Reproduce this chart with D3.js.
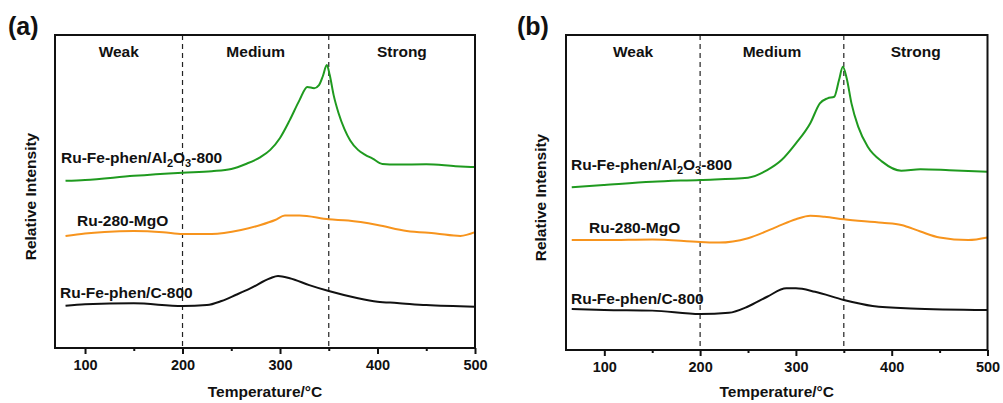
<!DOCTYPE html>
<html>
<head>
<meta charset="utf-8">
<script src="https://cdn.jsdelivr.net/npm/d3@7"></script>
<style>
    body { margin: 0; background: #fff; }
    text { font-family: Arial, "Liberation Sans", sans-serif; font-weight: bold; fill: #111; }
</style>
</head>
<body>
<div id="chart"></div>
<script>
// values (intensity in % of frame height)
const tempsA_green = [80, 100, 150, 200, 230, 250, 265, 280, 290, 300, 310, 320, 328, 335, 340, 344, 348, 351, 355, 360, 366, 372, 380, 387, 395, 405, 420, 450, 480, 500];
const valsA_green  = [53.4, 53.7, 55.0, 56.0, 56.5, 57.2, 58.8, 61.0, 63.3, 67.1, 72.8, 79.2, 83.4, 83.0, 84.0, 86.9, 90.4, 87.2, 80.8, 75.1, 70.0, 66.3, 63.3, 61.8, 60.5, 58.8, 58.6, 58.7, 58.1, 57.8];

const tempsA_orange = [80, 100, 120, 150, 180, 200, 230, 260, 280, 295, 305, 320, 350, 370, 400, 430, 460, 485, 500];
const valsA_orange  = [35.8, 36.6, 37.1, 37.4, 37.0, 36.4, 36.4, 37.7, 39.3, 40.9, 42.3, 42.3, 41.1, 40.7, 39.3, 37.4, 36.6, 35.8, 37.0];

const tempsA_black = [80, 100, 150, 200, 225, 240, 255, 270, 290, 298, 310, 330, 350, 380, 400, 420, 450, 500];
const valsA_black  = [13.5, 14.0, 14.3, 13.4, 13.7, 15.0, 17.0, 19.1, 22.3, 23.0, 22.3, 20.1, 18.2, 15.9, 14.8, 14.4, 13.7, 13.2];

const tempsB_green = [66, 100, 150, 200, 250, 270, 285, 300, 315, 325, 333, 340, 345, 349, 353, 358, 365, 375, 390, 410, 430, 460, 500];
const valsB_green  = [51.7, 52.4, 53.4, 54.0, 54.7, 57.1, 60.3, 65.6, 72.0, 78.3, 79.9, 80.4, 85.7, 89.9, 86.3, 78.3, 70.9, 64.5, 59.8, 56.9, 57.4, 57.1, 56.6];

const tempsB_orange = [66, 100, 150, 200, 220, 250, 280, 300, 315, 330, 350, 390, 410, 430, 450, 480, 500];
const valsB_orange  = [34.9, 34.9, 35.1, 34.3, 34.1, 35.5, 39.1, 41.5, 42.6, 42.3, 41.5, 40.4, 39.7, 37.6, 35.7, 34.9, 35.7];

const tempsB_black = [66, 100, 150, 200, 230, 250, 270, 290, 300, 320, 350, 380, 420, 500];
const valsB_black  = [13.0, 12.7, 12.5, 11.4, 11.8, 13.8, 16.9, 19.6, 19.6, 18.5, 15.9, 14.0, 13.2, 12.7];

const xTicks = [100, 200, 300, 400, 500];
const xMinorTicks = [150, 250, 350, 450];
const regionBounds = [200, 350];
const regionNames = ["Weak", "Medium", "Strong"];
const sampleNames = ["Ru-Fe-phen/Al2O3-800", "Ru-280-MgO", "Ru-Fe-phen/C-800"];
const sampleColors = ["#1f9a1f", "#f7941d", "#111111"];

// layout of the two panels
const panels = [
    {
        tag: "(a)", tagX: 8, left: 55, top: 35, right: 475, bottom: 348, xMin: 69.2,
        series: [[tempsA_green, valsA_green], [tempsA_orange, valsA_orange], [tempsA_black, valsA_black]],
        labelPos: [[61, 163], [77, 226], [60, 298]], yLabelX: 36
    },
    {
        tag: "(b)", tagX: 517, left: 566, top: 35, right: 987.5, bottom: 350, xMin: 60,
        series: [[tempsB_green, valsB_green], [tempsB_orange, valsB_orange], [tempsB_black, valsB_black]],
        labelPos: [[571, 170], [589, 233], [571, 304]], yLabelX: 546
    }
];

const svg = d3.select("#chart").append("svg")
    .attr("width", 1003)
    .attr("height", 403);

panels.forEach(p => {
    let x = d3.scaleLinear().domain([p.xMin, 500]).range([p.left, p.right]);
    let y = d3.scaleLinear().domain([0, 100]).range([p.bottom, p.top]);
    let g = svg.append("g");

    // panel tag
    g.append("text")
        .attr("x", p.tagX)
        .attr("y", 35)
        .style("font-size", "25px")
        .text(p.tag);

    // dashed region boundaries
    g.selectAll(".bound")
        .data(regionBounds)
        .join("line")
        .attr("x1", d => x(d)).attr("x2", d => x(d))
        .attr("y1", p.top).attr("y2", p.bottom)
        .attr("stroke", "#222")
        .attr("stroke-width", 1.2)
        .attr("stroke-dasharray", "5,4");

    // region names
    let edges = [p.xMin].concat(regionBounds, [500]);
    g.selectAll(".region")
        .data(regionNames)
        .join("text")
        .attr("x", (d, i) => (x(edges[i]) + x(edges[i + 1])) / 2)
        .attr("y", 57)
        .attr("text-anchor", "middle")
        .style("font-size", "15.5px")
        .text(d => d);

    // curves
    let line = d3.line()
        .x(d => x(d[0]))
        .y(d => y(d[1]))
        .curve(d3.curveMonotoneX);

    p.series.forEach((s, i) => {
        let pts = s[0].map((t, k) => [t, s[1][k]]);
        g.append("path")
            .datum(pts)
            .attr("fill", "none")
            .attr("stroke", sampleColors[i])
            .attr("stroke-width", 2)
            .attr("d", line);
    });

    // sample labels
    sampleNames.forEach((name, i) => {
        let t = g.append("text")
            .attr("x", p.labelPos[i][0])
            .attr("y", p.labelPos[i][1])
            .style("font-size", "15.5px");
        if (name.includes("Al2O3")) {
            t.append("tspan").text("Ru-Fe-phen/Al");
            t.append("tspan").attr("dy", 4).style("font-size", "11px").text("2");
            t.append("tspan").attr("dy", -4).text("O");
            t.append("tspan").attr("dy", 4).style("font-size", "11px").text("3");
            t.append("tspan").attr("dy", -4).text("-800");
        } else {
            t.text(name);
        }
    });

    // frame
    g.append("rect")
        .attr("x", p.left)
        .attr("y", p.top)
        .attr("width", p.right - p.left)
        .attr("height", p.bottom - p.top)
        .attr("fill", "none")
        .attr("stroke", "#111")
        .attr("stroke-width", 2);

    // x axis
    let xAxis = g.append("g")
        .attr("transform", `translate(0,${p.bottom})`)
        .call(d3.axisBottom(x).tickValues(xTicks).tickSize(6).tickPadding(6));
    xAxis.select(".domain").remove();
    xAxis.selectAll("line").attr("stroke", "#111").attr("stroke-width", 2);
    xAxis.selectAll("text")
        .style("font-size", "14.5px")
        .style("font-family", "Arial, 'Liberation Sans', sans-serif")
        .style("font-weight", "bold")
        .attr("fill", "#111");

    g.append("g")
        .attr("transform", `translate(0,${p.bottom})`)
        .call(d3.axisBottom(x).tickValues(xMinorTicks).tickSize(3).tickFormat(""))
        .call(a => a.select(".domain").remove())
        .selectAll("line").attr("stroke", "#111").attr("stroke-width", 2);

    // axis titles
    g.append("text")
        .attr("x", (p.left + p.right) / 2)
        .attr("y", 397)
        .attr("text-anchor", "middle")
        .style("font-size", "15.5px")
        .text("Temperature/°C");

    g.append("text")
        .attr("transform", `translate(${p.yLabelX},${(p.top + p.bottom) / 2 + 5}) rotate(-90)`)
        .attr("text-anchor", "middle")
        .style("font-size", "15.5px")
        .text("Relative Intensity");
});
</script>
</body>
</html>
